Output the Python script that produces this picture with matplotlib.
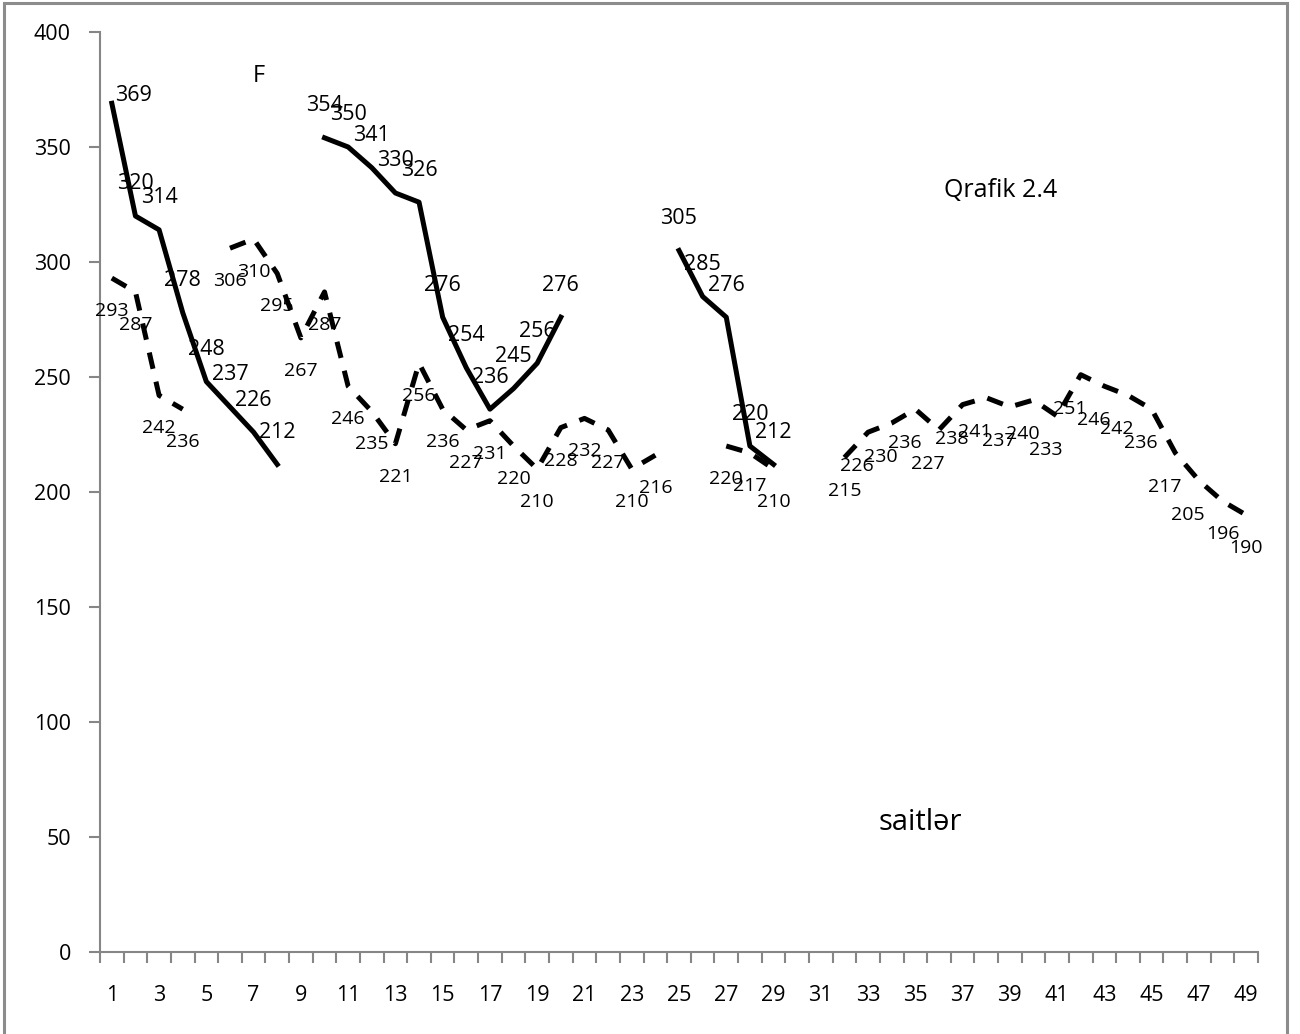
import numpy as np
import matplotlib
matplotlib.use("Agg")
import matplotlib.pyplot as plt
from matplotlib.patches import Rectangle

plt.rcParams["font.family"] = ["Open Sans", "Noto Sans", "DejaVu Sans"]
plt.rcParams["lines.scale_dashes"] = False

NAN = np.nan
# positions 1..49 along the category axis
POS = np.arange(1, 50)
XTICK_LABELS = [str(i) for i in range(1, 50, 2)]

# solid series (F) — gaps where there is no value
SOLID = [369, 320, 314, 278, 248, 237, 226, 212, NAN,
         354, 350, 341, 330, 326, 276, 254, 236, 245, 256, 276,
         NAN, NAN, NAN, NAN,
         305, 285, 276, 220, 212] + [NAN] * 20

# dashed series (saitlər)
DASHED = [293, 287, 242, 236, NAN,
          306, 310, 295, 267, 287, 246, 235, 221, 256, 236, 227, 231, 220, 210,
          228, 232, 227, 210, 216,
          NAN, NAN,
          220, 217, 210,
          NAN, NAN,
          215, 226, 230, 236, 227, 238, 241, 237, 240, 233, 251, 246, 242, 236,
          217, 205, 196, 190]

AXIS_GRAY = "#868686"

# label offsets in pixels: solid labels sit above, dashed ones below
SOLID_OFF = {1: (22, 8)}
DASHED_OFF = {i: (-11, -34) for i in range(33, 48)}

fig = plt.figure(figsize=(13, 10.34), dpi=100)
ax = fig.add_axes([100 / 1300, 82 / 1034, 1158 / 1300, 920 / 1034])

ax.plot(POS, SOLID, color="black", lw=3.6, solid_joinstyle="round")
ax.plot(POS, DASHED, color="black", lw=3.6, linestyle=(0, (12, 9.5)))

for x, v in zip(POS, SOLID):
    if np.isnan(v):
        continue
    dx, dy = SOLID_OFF.get(x, (0, 32))
    ax.annotate(f"{v:.0f}", (x, v), xytext=(dx, dy), textcoords="offset pixels",
                ha="center", va="center", fontsize=15.5)

for x, v in zip(POS, DASHED):
    if np.isnan(v):
        continue
    dx, dy = DASHED_OFF.get(x, (0, -33))
    ax.annotate(f"{v:.0f}", (x, v), xytext=(dx, dy), textcoords="offset pixels",
                ha="center", va="center", fontsize=14)

ax.text(7.2, 381, "F", ha="center", va="center", fontsize=17)
ax.text(38.6, 331, "Qrafik 2.4", ha="center", va="center", fontsize=18)
ax.text(35.2, 56.5, "saitlər", ha="center", va="center", fontsize=21)

ax.set_xlim(0.5, 49.5)
ax.set_ylim(0, 400)
ax.set_yticks(range(0, 401, 50))
# tick marks between categories, labels on every other category
ax.set_xticks(np.arange(0.5, 50, 1))
ax.set_xticklabels([])
ax.set_xticks(np.arange(1, 50, 2), minor=True)
ax.set_xticklabels(XTICK_LABELS, minor=True)

ax.tick_params(axis="x", which="major", length=8, width=1.5, color=AXIS_GRAY)
ax.tick_params(axis="x", which="minor", length=0, pad=24, labelsize=15.5)
ax.tick_params(axis="y", length=8, width=1.5, color=AXIS_GRAY, pad=13, labelsize=15.5)

for side in ("top", "right"):
    ax.spines[side].set_visible(False)
for side in ("left", "bottom"):
    ax.spines[side].set_color(AXIS_GRAY)
    ax.spines[side].set_linewidth(1.5)

# chart frame
fig.add_artist(Rectangle((4 / 1300, -0.01), 1283 / 1300, 1.01 - 3 / 1034,
                         transform=fig.transFigure, fill=False,
                         edgecolor="#8c8c8c", lw=2.2, clip_on=False))

fig.savefig("out.png", dpi=100)
